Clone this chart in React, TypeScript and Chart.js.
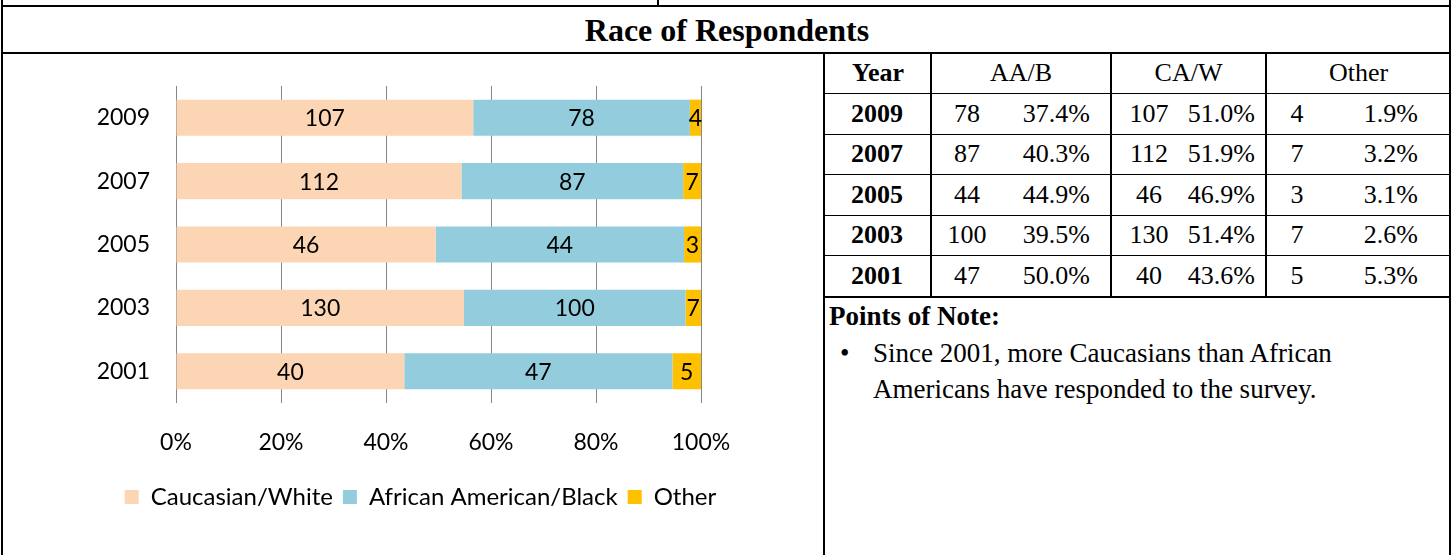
import React, { useEffect, useRef } from "react";
import { Chart, registerables } from "chart.js";

Chart.register(...registerables);

// ---- Chart data ----
const years = ["2009", "2007", "2005", "2003", "2001"];
const caucasian = [107, 112, 46, 130, 40];
const african = [78, 87, 44, 100, 47];
const other = [4, 7, 3, 7, 5];
const seriesNames = ["Caucasian/White", "African American/Black", "Other"];
const seriesColors = ["#FCD5B5", "#93CDDD", "#FFC000"];

// ---- Table data ----
const tableHeaders = ["Year", "AA/B", "CA/W", "Other"];
const tableYears = ["2009", "2007", "2005", "2003", "2001"];
const aaCounts = ["78", "87", "44", "100", "47"];
const aaPct = ["37.4%", "40.3%", "44.9%", "39.5%", "50.0%"];
const caCounts = ["107", "112", "46", "130", "40"];
const caPct = ["51.0%", "51.9%", "46.9%", "51.4%", "43.6%"];
const otherCounts = ["4", "7", "3", "7", "5"];
const otherPct = ["1.9%", "3.2%", "3.1%", "2.6%", "5.3%"];

const title = "Race of Respondents";
const noteTitle = "Points of Note:";
const noteLines = ["Since 2001, more Caucasians than African", "Americans have responded to the survey."];

const CHART_FONT = "Lato, 'Open Sans', sans-serif";
const SERIF = "'Liberation Serif', 'Times New Roman', serif";

const countsBySeries = [caucasian, african, other];

const valueLabels = {
  id: "valueLabels",
  afterDatasetsDraw(chart: any) {
    const ctx = chart.ctx;
    ctx.save();
    ctx.font = `23px ${CHART_FONT}`;
    ctx.fillStyle = "#000";
    ctx.textAlign = "center";
    ctx.textBaseline = "middle";
    chart.data.datasets.forEach((ds: any, di: number) => {
      const meta = chart.getDatasetMeta(di);
      meta.data.forEach((el: any, i: number) => {
        const cx = (el.x + el.base) / 2;
        ctx.fillText(String(countsBySeries[di][i]), cx, el.y + 1);
      });
    });
    ctx.restore();
  },
};

// centre the legend under the whole cell rather than under the plot
const shiftLegend = {
  id: "shiftLegend",
  afterLayout(chart: any) {
    const l = chart.legend;
    if (!l) return;
    l.left += 68;
    l.right += 68;
  },
};

function BarChart() {
  const ref = useRef<HTMLCanvasElement | null>(null);
  useEffect(() => {
    if (!ref.current) return;
    const totals = years.map((_, i) => caucasian[i] + african[i] + other[i]);
    const pct = (arr: number[]) => arr.map((v, i) => (v / totals[i]) * 100);
    const chart = new Chart(ref.current, {
      type: "bar",
      data: {
        labels: years,
        datasets: countsBySeries.map((arr, k) => ({
          label: seriesNames[k],
          data: pct(arr),
          backgroundColor: seriesColors[k],
          borderWidth: 0,
          barPercentage: 0.57,
          categoryPercentage: 1,
        })),
      },
      options: {
        indexAxis: "y",
        animation: false,
        responsive: false,
        maintainAspectRatio: false,
        layout: { padding: { top: 31, right: 121, bottom: 36, left: 0 } },
        plugins: {
          legend: {
            position: "bottom",
            labels: {
              font: { family: CHART_FONT, size: 24 },
              color: "#000",
              boxWidth: 14,
              boxHeight: 14,
              padding: 10,
            },
          },
          tooltip: { enabled: false },
        },
        scales: {
          x: {
            stacked: true,
            min: 0,
            max: 100,
            ticks: {
              stepSize: 20,
              padding: 26,
              color: "#000",
              font: { family: CHART_FONT, size: 23 },
              callback: (v: any) => `${v}%`,
            },
            grid: { color: "#868686", lineWidth: 1, drawTicks: false },
            border: { display: false },
            afterFit: (s: any) => {
              s.height = 72;
              s.paddingLeft = 0;
              s.paddingRight = 0;
            },
          },
          y: {
            stacked: true,
            ticks: {
              padding: 26,
              color: "#000",
              font: { family: CHART_FONT, size: 23 },
            },
            grid: { display: false, drawTicks: false },
            border: { display: false },
            afterFit: (s: any) => {
              s.width = 172;
              s.paddingTop = 0;
              s.paddingBottom = 0;
            },
          },
        },
      },
      plugins: [valueLabels, shiftLegend],
    });
    return () => chart.destroy();
  }, []);
  return <canvas ref={ref} width={818} height={500} style={{ display: "block" }} />;
}

const line = (left: number, top: number, width: number, height: number, key: string) => (
  <div key={key} style={{ position: "absolute", left, top, width, height, background: "#000" }} />
);

const text = (
  content: string,
  x: number,
  cy: number,
  align: "center" | "left" | "right",
  opts: { size?: number; bold?: boolean; key: string }
) => {
  const size = opts.size ?? 26;
  const h = size + 8;
  const w = 600;
  let left = x;
  if (align === "center") left = x - w / 2;
  if (align === "right") left = x - w;
  return (
    <div
      key={opts.key}
      style={{
        position: "absolute",
        left,
        width: w,
        top: cy - h / 2,
        height: h,
        lineHeight: `${h}px`,
        textAlign: align,
        fontFamily: SERIF,
        fontSize: size,
        fontWeight: opts.bold ? "bold" : "normal",
        color: "#000",
        whiteSpace: "nowrap",
      }}
    >
      {content}
    </div>
  );
};

export default function App() {
  const colX = [824, 930, 1110, 1265, 1450];
  const rowY = [53, 93, 134, 174, 215, 255, 296];
  const centers = tableYears.map((_, i) => (rowY[i + 1] + rowY[i + 2]) / 2);

  const els: React.ReactNode[] = [];
  // outer frame
  els.push(line(1, 0, 2, 555, "lb"));
  els.push(line(1449, 0, 2, 555, "rb"));
  els.push(line(1, 5, 1450, 2, "top"));
  els.push(line(657, 0, 2, 6, "topv"));
  els.push(line(1, 52, 1450, 2, "titleb"));
  els.push(line(823, 53, 2, 502, "divider"));
  // table lines
  rowY.slice(1).forEach((y, i) => els.push(line(824, y, 626, i === rowY.length - 2 ? 2 : 1, `rl${i}`)));
  colX.slice(1, 4).forEach((x, i) => els.push(line(x, 53, 2, 243, `cl${i}`)));

  // title
  els.push(text(title, 727, 30, "center", { size: 32, bold: true, key: "title" }));

  // headers
  const headerCy = 73;
  tableHeaders.forEach((h, i) => {
    const cx = (colX[i] + colX[i + 1]) / 2;
    els.push(text(h, cx + 1, headerCy, "center", { bold: i === 0, key: `h${i}` }));
  });

  tableYears.forEach((yr, i) => {
    const cy = centers[i];
    els.push(text(yr, 877, cy, "center", { bold: true, key: `y${i}` }));
    els.push(text(aaCounts[i], 967, cy, "center", { key: `ac${i}` }));
    els.push(text(aaPct[i], 1090, cy, "right", { key: `ap${i}` }));
    els.push(text(caCounts[i], 1149, cy, "center", { key: `cc${i}` }));
    els.push(text(caPct[i], 1255, cy, "right", { key: `cp${i}` }));
    els.push(text(otherCounts[i], 1297, cy, "center", { key: `oc${i}` }));
    els.push(text(otherPct[i], 1418, cy, "right", { key: `op${i}` }));
  });

  // points of note
  els.push(text(noteTitle, 829, 316, "left", { size: 27, bold: true, key: "nt" }));
  els.push(text("•", 840, 353, "left", { size: 27, key: "bullet" }));
  noteLines.forEach((l, i) => els.push(text(l, 873, 353 + i * 36, "left", { size: 27, key: `nl${i}` })));

  return (
    <div
      style={{
        position: "fixed",
        left: 0,
        top: 0,
        width: 1453,
        height: 555,
        background: "#fff",
        overflow: "hidden",
      }}
    >
      {els}
      <div style={{ position: "absolute", left: 4, top: 55, width: 818, height: 500 }}>
        <BarChart />
      </div>
    </div>
  );
}
